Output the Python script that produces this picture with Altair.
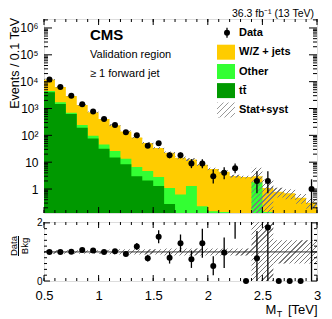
import altair as alt
import pandas as pd

# ---------------- data ----------------
bin_lo = [0.5, 0.6, 0.7, 0.8, 0.9, 1.0, 1.1, 1.2, 1.3, 1.4, 1.5, 1.6, 1.7,
          1.8, 1.9, 2.0, 2.1, 2.2, 2.3, 2.4, 2.5, 2.6, 2.7, 2.8, 2.9]
ttbar = [4000, 1480, 630, 190, 76, 32, 15, 8.3, 3.0, 2.1, 1.3, 0.28, 0,
         0, 0, 0, 0, 0, 0, 0, 0, 0, 0, 0, 0]
other = [450, 220, 60, 55, 20, 14, 11, 5.0, 3.6, 2.6, 1.5, 0.82, 0.63,
         1.3, 0.23, 0.15, 0.14, 0.05, 0, 1.8, 0.14, 0, 0, 0, 0]
wzjets = [7550, 4600, 2260, 1105, 634, 364, 214, 127, 77, 47, 31, 21.4, 14.0,
          11.2, 7.8, 5.4, 4.3, 3.0, 2.8, 1.2, 0.95, 0.8, 0.7, 0.47, 0.31]
bkg_unc = [0.06, 0.06, 0.06, 0.06, 0.06, 0.06, 0.09, 0.09, 0.09, 0.09, 0.09, 0.12, 0.12,
           0.12, 0.12, 0.12, 0.12, 0.12, 0.12, 1.05, 1.1, 0.4, 0.4, 0.4, 0.4]
data_obs = [12000, 6300, 3000, 1450, 770, 410, 245, 130, 100, 41, 51, 18, 18,
            9, 9, 3, 4, 6, 0, 2, 2, 0, 0, 0, 1]
data_lo = [11890, 6220, 2945, 1412, 742, 390, 229, 119, 90, 35, 44, 14, 14,
           6, 6, 1.6, 2.3, 3.9, 0, 0.7, 0.7, 0, 0, 0, 0.17]
data_hi = [12110, 6380, 3055, 1488, 798, 430, 261, 141, 110, 48, 58, 23, 23,
           13, 13, 5.3, 6.5, 8.9, 0, 4.6, 4.6, 0, 0, 0, 2.3]
ratio = [1.0, 1.0, 1.01, 1.07, 1.05, 1.0, 1.02, 0.93, 1.19, 0.78, 1.52, 0.8, 1.3,
         0.75, 1.3, 0.52, 0.98, 2.3, 0, 0.78, 1.84, 0, 0, 0, 3.2]
ratio_lo = [0.98, 0.98, 0.99, 1.04, 1.02, 0.96, 0.97, 0.87, 1.07, 0.67, 1.3, 0.6, 1.0,
            0.45, 0.8, 0.2, 0.45, 1.45, 0, 0.0, 0.0, 0, 0, 0, 0.0]
ratio_hi = [1.02, 1.02, 1.03, 1.10, 1.08, 1.04, 1.07, 0.99, 1.31, 0.9, 1.75, 1.0, 1.6,
            1.05, 1.8, 0.85, 1.5, 3.0, 0, 1.72, 3.0, 0, 0, 0, 5.0]

x_major = [0.5, 1.0, 1.5, 2.0, 2.5, 3.0]
x_minor = [0.5, 0.6, 0.7, 0.8, 0.9, 1.0, 1.1, 1.2, 1.3, 1.4, 1.5, 1.6, 1.7,
           1.8, 1.9, 2.0, 2.1, 2.2, 2.3, 2.4, 2.5, 2.6, 2.7, 2.8, 2.9, 3.0]
y_major = [1, 10, 100, 1e3, 1e4, 1e5, 1e6]
y_minor = [m * 10.0 ** e for e in range(-1, 7) for m in range(2, 10)]
r_major = [0, 1, 2]
r_minor = [0.2, 0.4, 0.6, 0.8, 1.2, 1.4, 1.6, 1.8]

# ---------------- layout / style ----------------
FONT = "Liberation Sans"
W, H, HR = 273, 194, 59
YMIN, YMAX = 0.128, 2.16e6
RMIN, RMAX = 0.0, 2.03
C_WZ, C_OTH, C_TT = "#ffcc00", "#33ff33", "#009900"
HATCH = "#7a7a7a"

XS = alt.Scale(domain=[0.5, 3.0], nice=False, zero=False)
YS = alt.Scale(type="log", domain=[YMIN, YMAX], nice=False)
RS = alt.Scale(domain=[RMIN, RMAX], nice=False, zero=False)

ylab = ("datum.value < 5 ? '1' : datum.value < 50 ? '10' : '10' + "
        "['','','²','³','⁴','⁵','⁶'][round(log(datum.value)/LN10)]")
YAX = alt.Axis(values=y_major, labelExpr=ylab, ticks=False, tickSize=0, domain=False, grid=False,
               labelFont=FONT, labelFontSize=12, labelPadding=6, labelOverlap=False,
               labelColor="black", title=None)
RAX = alt.Axis(values=r_major, format="d", ticks=False, tickSize=0, domain=False, grid=False,
               labelFont=FONT, labelFontSize=10, labelPadding=2, labelOverlap=False,
               labelColor="black", title=None)
XAX = alt.Axis(values=x_major, format="~g", ticks=False, tickSize=0, domain=False, grid=False,
               labelFont=FONT, labelFontSize=13, labelPadding=8, labelOverlap=False,
               labelFlush=False, labelColor="black", title=None)


def hatch(n, x2, y2, color=HATCH, frac=0.24):
    clear = "rgba(255,255,255,0)"
    stops = []
    for i in range(n):
        a, b, c = round(i / n, 5), round((i + frac) / n, 5), round((i + 1) / n, 5)
        stops += [alt.GradientStop(color=color, offset=a), alt.GradientStop(color=color, offset=b),
                  alt.GradientStop(color=clear, offset=b), alt.GradientStop(color=clear, offset=c)]
    return alt.LinearGradient(gradient="linear", stops=stops, x1=0, y1=0, x2=x2, y2=y2)


# ---------------- tables ----------------
nb = len(bin_lo)
edges = bin_lo + [3.0]
tt_top = [max(t, YMIN * 0.5) for t in ttbar]
mid_top = [max(t + o, YMIN * 0.5) for t, o in zip(ttbar, other)]
tot = [t + o + w for t, o, w in zip(ttbar, other, wzjets)]


def ext(v):
    return list(v) + [v[-1]]


stack_df = pd.DataFrame({"x": edges, "tot": ext(tot), "mid": ext(mid_top), "tt": ext(tt_top),
                         "base": [YMIN] * (nb + 1)})
band_df = pd.DataFrame({
    "x": edges,
    "up": ext([t * (1 + u) for t, u in zip(tot, bkg_unc)]),
    "lo": ext([max(t * (1 - u), YMIN) for t, u in zip(tot, bkg_unc)]),
    "rup": ext([min(1 + u, RMAX) for u in bkg_unc]),
    "rlo": ext([max(1 - u, 0.0) for u in bkg_unc]),
})
centers = [round(b + 0.05, 3) for b in bin_lo]
pts_df = pd.DataFrame({"x": centers, "n": data_obs, "lo": data_lo, "hi": data_hi,
                       "r": ratio, "rlo": ratio_lo, "rhi": ratio_hi})


# encoders (same axis object everywhere in a panel so the merged axis survives)
def mx(f):
    return alt.X(f, type="quantitative", scale=XS, axis=None)


def my(f):
    return alt.Y(f, type="quantitative", scale=YS, axis=YAX)


def rx(f):
    return alt.X(f, type="quantitative", scale=XS, axis=XAX)


def ry(f):
    return alt.Y(f, type="quantitative", scale=RS, axis=RAX)


# ---------------- main panel ----------------
base_stack = alt.Chart(stack_df)
wz_layer = base_stack.mark_area(interpolate="step-after", clip=True, color=C_WZ).encode(
    x=mx("x"), y=my("tot"), y2="base:Q")
oth_layer = base_stack.mark_area(interpolate="step-after", clip=True, color=C_OTH).encode(
    x=mx("x"), y=my("mid"), y2="base:Q")
tt_layer = base_stack.mark_area(interpolate="step-after", clip=True, color=C_TT).encode(
    x=mx("x"), y=my("tt"), y2="base:Q")
band_main = alt.Chart(band_df).mark_area(interpolate="step-after", clip=True,
                                         color=hatch(80, 1.2015, 0.590)).encode(
    x=mx("x"), y=my("up"), y2="lo:Q")

pts_main = alt.Chart(pts_df).transform_filter("datum.n > 0")
err_main = pts_main.mark_rule(color="black", strokeWidth=1.3, clip=True).encode(
    x=mx("x"), y=my("lo"), y2="hi:Q")
dot_main = pts_main.mark_point(filled=True, size=36, color="black", opacity=1, clip=True).encode(
    x=mx("x"), y=my("n"))


def yticks(vals, yenc, length, width):
    c = alt.Chart(pd.DataFrame({"v": vals}))
    left = c.mark_rule(color="black", strokeWidth=1).encode(y=yenc("v"), x=alt.value(0), x2=alt.value(length))
    right = c.mark_rule(color="black", strokeWidth=1).encode(y=yenc("v"), x=alt.value(width - length),
                                                              x2=alt.value(width))
    return [left, right]


def xticks(vals, xenc, length, height):
    c = alt.Chart(pd.DataFrame({"v": vals}))
    top = c.mark_rule(color="black", strokeWidth=1).encode(x=xenc("v"), y=alt.value(0), y2=alt.value(length))
    bot = c.mark_rule(color="black", strokeWidth=1).encode(x=xenc("v"), y=alt.value(height - length),
                                                            y2=alt.value(height))
    return [top, bot]


def txt(s, x, y, size, weight="normal", align="left", baseline="alphabetic", angle=0):
    return alt.Chart(pd.DataFrame({"t": [s]})).mark_text(
        font=FONT, fontSize=size, fontWeight=weight, align=align, baseline=baseline,
        angle=angle, color="black").encode(text="t:N", x=alt.value(x), y=alt.value(y))


def box(x1, x2, y1, y2, fill):
    return alt.Chart(pd.DataFrame({"t": [0]})).mark_rect(color=fill).encode(
        x=alt.value(x1), x2=alt.value(x2), y=alt.value(y1), y2=alt.value(y2))


legend_labels = ["Data", "W/Z + jets", "Other", "tt̄", "Stat+syst"]
leg_y = [13.7, 33.2, 52.5, 71.6, 91.0]
leg_layers = [
    alt.Chart(pd.DataFrame({"t": [0]})).mark_rule(color="black", strokeWidth=1.3).encode(
        x=alt.value(183), y=alt.value(leg_y[0] - 5), y2=alt.value(leg_y[0] + 5)),
    alt.Chart(pd.DataFrame({"t": [0]})).mark_point(filled=True, size=36, color="black", opacity=1).encode(
        x=alt.value(183), y=alt.value(leg_y[0])),
    box(173, 191, leg_y[1] - 7.5, leg_y[1] + 7.5, C_WZ),
    box(173, 191, leg_y[2] - 7.5, leg_y[2] + 7.5, C_OTH),
    box(173, 191, leg_y[3] - 7.5, leg_y[3] + 7.5, C_TT),
    box(173, 191, leg_y[4] - 7.5, leg_y[4] + 7.5, hatch(6, 1.082, 0.902, color="#999999")),
]
for lab, yy in zip(legend_labels, leg_y):
    leg_layers.append(txt(lab, 195, yy, 11, weight="bold", baseline="middle"))

main_text = [
    txt("CMS", 46, 21.3, 15, weight="bold"),
    txt("Validation region", 46, 39.3, 11),
    txt("≥ 1 forward jet", 46, 58.3, 11),
    txt("36.3 fb⁻¹ (13 TeV)", 270, -2, 10.5, align="right"),
    txt("Events / 0.1 TeV", -35, -1, 12.5, align="right", baseline="top", angle=270),
]

main = alt.layer(
    wz_layer, oth_layer, tt_layer, band_main, err_main, dot_main,
    *yticks(y_major, my, 8, W), *yticks([v for v in y_minor if YMIN < v < YMAX], my, 4, W),
    *xticks(x_major, mx, 6, H), *xticks(x_minor, mx, 3, H),
    *leg_layers, *main_text,
).properties(width=W, height=H)

# ---------------- ratio panel ----------------
band_ratio = alt.Chart(band_df).mark_area(interpolate="step-after", clip=True,
                                          color=hatch(65, 1.162, 0.251)).encode(
    x=rx("x"), y=ry("rup"), y2="rlo:Q")
one_line = alt.Chart(pd.DataFrame({"v": [1.0]})).mark_rule(color="#333333", strokeWidth=1).encode(
    y=ry("v"), x=alt.value(0), x2=alt.value(W))
pts_r = alt.Chart(pts_df)
err_r = pts_r.transform_filter("datum.rhi > datum.rlo").mark_rule(
    color="black", strokeWidth=1.3, clip=True).encode(x=rx("x"), y=ry("rlo"), y2="rhi:Q")
dot_r = pts_r.transform_filter(f"datum.r <= {RMAX}").mark_point(
    filled=True, size=36, color="black", opacity=1).encode(x=rx("x"), y=ry("r"))

ratio_text = [
    txt("Data", -35, 24, 9.5, align="center", baseline="top", angle=270),
    txt("Bkg", -24, 24, 9.5, align="center", baseline="top", angle=270),
    alt.Chart(pd.DataFrame({"t": [0]})).mark_rule(color="black", strokeWidth=1).encode(
        x=alt.value(-25.5), y=alt.value(14), y2=alt.value(34)),
    txt("M", 232.3, 91.5, 13, align="right"),
    txt("T", 232.8, 94.5, 9, align="left"),
    txt("[TeV]", 273.5, 91.5, 13, align="right"),
]

ratio_panel = alt.layer(
    band_ratio, one_line, err_r, dot_r,
    *yticks(r_major, ry, 6, W), *yticks(r_minor, ry, 3, W),
    *xticks(x_major, rx, 6, HR), *xticks(x_minor, rx, 3, HR),
    *ratio_text,
).properties(width=W, height=HR)

chart = alt.vconcat(main, ratio_panel, spacing=9, bounds="flush").properties(
    padding=0
).configure_view(stroke="black", strokeWidth=1).configure(font=FONT)

chart.save("out.html", embed_options={"renderer": "svg", "actions": False})
